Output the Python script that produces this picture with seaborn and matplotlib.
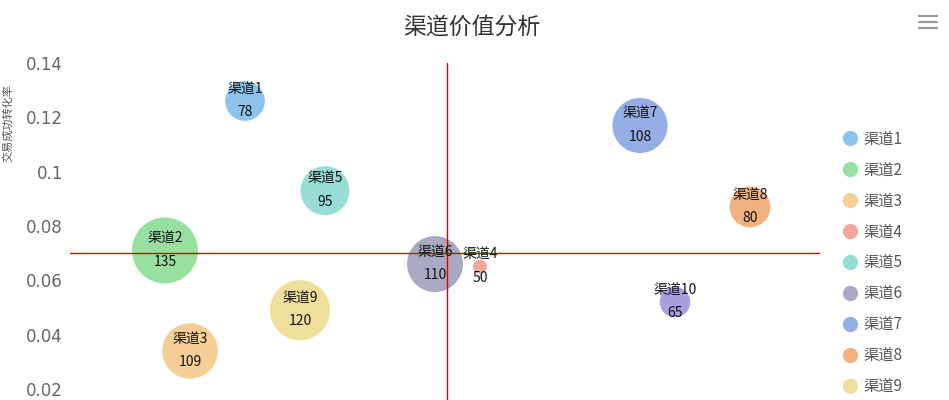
import matplotlib
matplotlib.use('Agg')
import matplotlib.pyplot as plt
from matplotlib.lines import Line2D
import seaborn as sns
import pandas as pd

# data (x axis is hidden in the reference)
channels = ['渠道1', '渠道2', '渠道3', '渠道4', '渠道5', '渠道6', '渠道7', '渠道8', '渠道9', '渠道10']
x_vals = [35, 19, 24, 82, 51, 73, 114, 136, 46, 121]
rates = [0.126, 0.071, 0.034, 0.065, 0.093, 0.066, 0.117, 0.087, 0.049, 0.052]
values = [78, 135, 109, 50, 95, 110, 108, 80, 120, 65]
colors = ['#8cc4ef', '#98e0a0', '#f5cf96', '#f2a79a', '#98dcd6',
          '#aaa9c4', '#96ade6', '#f2b27f', '#eee09a', '#a99ee0']
x_mark = 75.4
y_mark = 0.07
yticks = [0.02, 0.04, 0.06, 0.08, 0.1, 0.12, 0.14]
ytick_labels = ['0.02', '0.04', '0.06', '0.08', '0.1', '0.12', '0.14']

df = pd.DataFrame({'渠道': channels, 'x': x_vals, 'rate': rates, 'value': values})

sns.set_style('white')
plt.rcParams['font.family'] = ['Noto Sans CJK SC', 'DejaVu Sans']

fig = plt.figure(figsize=(9.49, 4.0), dpi=100)
ax = fig.add_axes([70 / 949, 0, 750 / 949, 337 / 400])

sns.scatterplot(data=df, x='x', y='rate', hue='渠道', palette=colors,
                size='value', sizes=(102, 2258), size_norm=(50, 135),
                linewidth=0, alpha=1, legend=False, ax=ax, zorder=2)

ax.axvline(x_mark, color='#e00000', lw=1.0, zorder=3)
ax.axhline(y_mark, color='#e00000', lw=1.0, zorder=3)

for name, x, y, v in zip(channels, x_vals, rates, values):
    ax.annotate(name, (x, y), xytext=(0, 9), textcoords='offset points',
                ha='center', va='center', fontsize=10, color='#111', zorder=4)
    ax.annotate(str(v), (x, y), xytext=(0, -8), textcoords='offset points',
                ha='center', va='center', fontsize=10, color='#111', zorder=4)

ax.set_xlim(0, 150)
ax.set_ylim(0.14 - 0.12 * 337 / 326, 0.14)
ax.set_xticks([])
ax.set_yticks(yticks)
ax.set_yticklabels(ytick_labels, fontsize=12, color='#666', family=['DejaVu Sans'])
ax.tick_params(axis='y', length=0, pad=5)
ax.set_xlabel('')
ax.set_ylabel('')
for s in ax.spines.values():
    s.set_visible(False)

fig.text(8 / 949, 1 - 123 / 400, '交易成功转化率', rotation=90, fontsize=8,
         color='#555', ha='center', va='center')
fig.text(472 / 949, 1 - 27 / 400, '渠道价值分析', fontsize=16.5, color='#333',
         ha='center', va='center')

# toolbox icon
for yy in (16, 22, 28):
    fig.add_artist(Line2D([919 / 949, 937 / 949], [1 - yy / 400, 1 - yy / 400],
                          color='#999', lw=1.6))

# legend: only the first nine entries fit inside the picture, as in the reference
handles = [Line2D([0], [0], marker='o', color='w', markerfacecolor=c,
                  markersize=11, markeredgewidth=0) for c in colors[:9]]
leg = fig.legend(handles, channels[:9], loc='upper left',
                 bbox_to_anchor=(833 / 949, 1 - 123 / 400), frameon=False,
                 fontsize=11, labelspacing=0.91, handletextpad=0.3,
                 handlelength=1.2, borderpad=0)
for t in leg.get_texts():
    t.set_color('#555')

fig.savefig('out.png', dpi=100)
